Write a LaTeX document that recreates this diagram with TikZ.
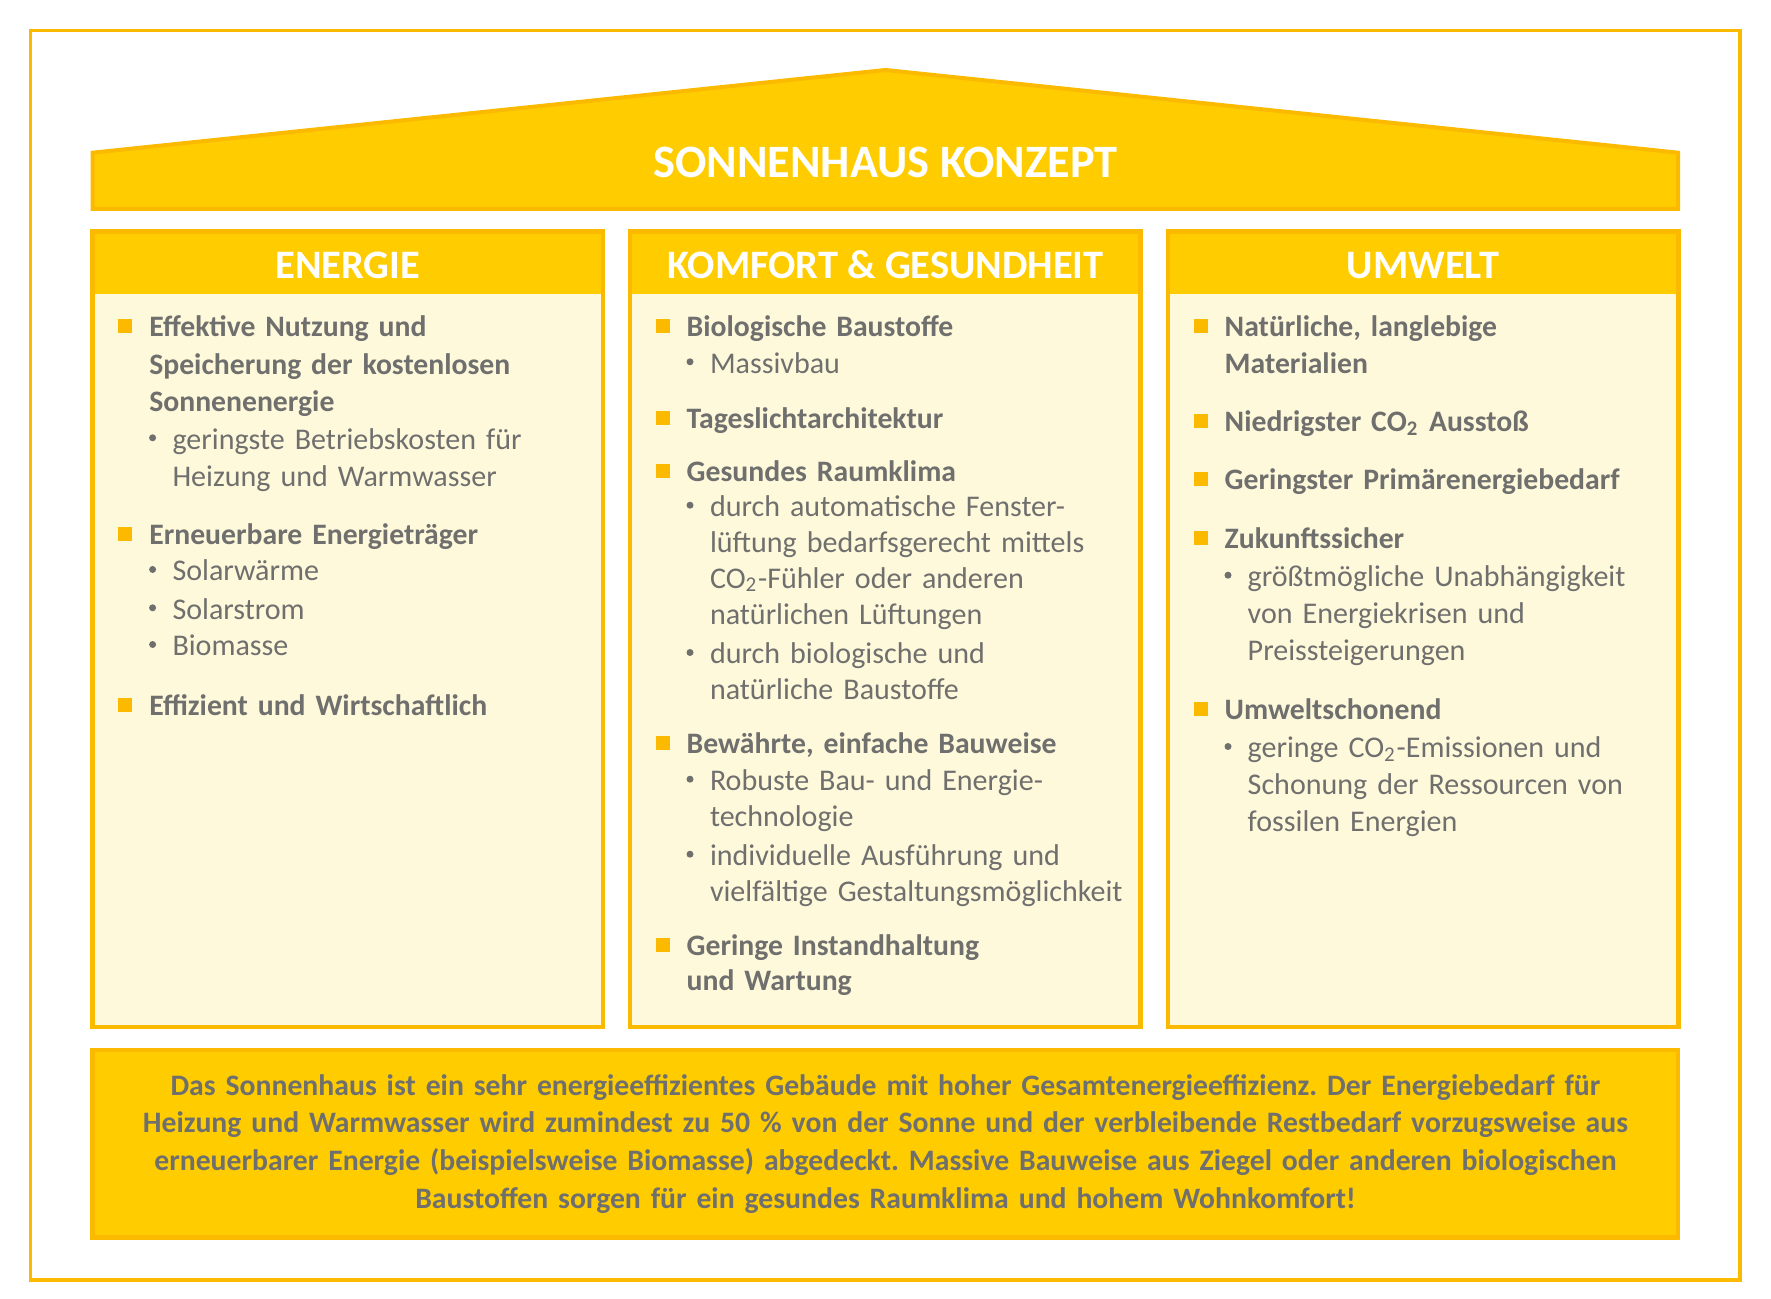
\documentclass[tikz,border=0pt]{standalone}
\usepackage{fontspec}
\setmainfont{Carlito}
\frenchspacing

\definecolor{sonnengelb}{HTML}{FFCC00}
\definecolor{randorange}{HTML}{FBBA00}
\definecolor{creme}{HTML}{FFF9DB}
\definecolor{textgrau}{HTML}{6F6F6E}

\tikzset{
    rahmen/.style     = {draw=randorange, line width=0.45mm},
    titel/.style      = {anchor=base, inner sep=0pt, text=white, font=\bfseries\fontsize{13.2}{15}\selectfont},
    kopftext/.style   = {anchor=base, inner sep=0pt, text=white, font=\bfseries\fontsize{11.5}{13}\selectfont},
    punkt/.style      = {anchor=base west, inner sep=0pt, text width=75mm, align=left, text=textgrau,
                         font=\bfseries\fontsize{8.45}{#1}\selectfont},
    punkt/.default    = 10.6pt,
    unterpunkt/.style = {anchor=base west, inner sep=0pt, text width=75mm, align=left, text=textgrau,
                         font=\fontsize{8.55}{#1}\selectfont},
    unterpunkt/.default = 10.6pt,
    quadrat/.style    = {fill=randorange},
    fazit/.style      = {anchor=base, inner sep=0pt, text width=165mm, align=center, text=textgrau,
                         font=\bfseries\fontsize{8.45}{10.77}\selectfont}
}

\begin{document}
\begin{tikzpicture}[x=0.1mm, y=-0.1mm]

    \useasboundingbox (0,0) rectangle (1771,1299);

    % ---------- outer frame ----------
    \draw[randorange, line width=0.33mm] (30.5,30.5) rectangle (1740,1280);

    % =================================================
    % 1. Roof with title
    % =================================================
    \filldraw[fill=sonnengelb, rahmen, line width=0.4mm]
      (92.6,209) -- (92.6,152.7) -- (885.5,70) -- (1678,152.7) -- (1678,209) -- cycle;
    \node[titel] (titel) at (885.5,177.3) {SONNENHAUS KONZEPT};

    % =================================================
    % 2. Three columns
    % =================================================
    \foreach \cx in {92.6,630,1168} {
        \fill[creme] (\cx,231.5) rectangle ++(510.4,795.5);
        \fill[sonnengelb] (\cx,231.5) rectangle ++(510.4,62.5);
        \draw[rahmen] (\cx,231.5) rectangle ++(510.4,795.5);
    }

    \node[kopftext] (energie) at (347.8,279) {ENERGIE};
    \node[kopftext] (komfort) at (885.5,279) {KOMFORT \& GESUNDHEIT};
    \node[kopftext] (umwelt)  at (1423,279)  {UMWELT};

    % square bullets
    \foreach \sx/\by in {125.1/336.7, 125.1/544.3, 125.1/715.5,
                         662.5/336.7, 662.5/428.3, 662.5/481.7, 662.5/754, 662.5/955,
                         1200.5/336.7, 1200.5/431.7, 1200.5/490, 1200.5/548.3, 1200.5/719.5}
        \fill[quadrat] (\sx-7,\by-17.5) rectangle ++(14,14);

    % round bullets
    \foreach \dx/\by in {152.6/449.3, 152.6/581, 152.6/619.3, 152.6/656,
                         690/373.3, 690/516.7, 690/664, 690/790.7, 690/865.7,
                         1228/586.7, 1228/758}
        \fill[textgrau] (\dx,\by-11.5) circle (0.35mm);

    % ---------- ENERGIE ----------
    \node[punkt=10.67pt] (eNutzung) at (148.6,336.7)
      {Effektive Nutzung und\\Speicherung der kostenlosen\\Sonnenenergie};
    \node[unterpunkt=10.67pt] (eKosten) at (171.8,449.3)
      {geringste Betriebskosten für\\Heizung und Warmwasser};
    \node[punkt] (eTraeger) at (148.6,544.3) {Erneuerbare Energieträger};
    \node[unterpunkt] (eWaerme) at (171.8,581)   {Solarwärme};
    \node[unterpunkt] (eStrom)  at (171.8,619.3) {Solarstrom};
    \node[unterpunkt] (eBio)    at (171.8,656)   {Biomasse};
    \node[punkt] (eEffizient) at (148.6,715.5) {Effizient und Wirtschaftlich};

    % ---------- KOMFORT & GESUNDHEIT ----------
    \node[punkt] (kBaustoffe) at (686,336.7) {Biologische Baustoffe};
    \node[unterpunkt] (kMassiv) at (709.3,373.3) {Massivbau};
    \node[punkt] (kTageslicht) at (686,428.3) {Tageslichtarchitektur};
    \node[punkt] (kKlima) at (686,481.7) {Gesundes Raumklima};
    \node[unterpunkt=10.21pt] (kLueftung) at (709.3,516.7)
      {durch automatische Fenster-\\lüftung bedarfsgerecht mittels\\CO\textsubscript{2}-Fühler oder anderen\\natürlichen Lüftungen};
    \node[unterpunkt=10.21pt] (kBio) at (709.3,664)
      {durch biologische und\\natürliche Baustoffe};
    \node[punkt] (kBauweise) at (686,754) {Bewährte, einfache Bauweise};
    \node[unterpunkt=10.21pt] (kTechnik) at (709.3,790.7)
      {Robuste Bau- und Energie-\\technologie};
    \node[unterpunkt=10.21pt] (kGestalt) at (709.3,865.7)
      {individuelle Ausführung und\\vielfältige Gestaltungsmöglichkeit};
    \node[punkt=10.21pt] (kWartung) at (686,955)
      {Geringe Instandhaltung\\und Wartung};

    % ---------- UMWELT ----------
    \node[punkt=10.52pt] (uMaterial) at (1224,336.7)
      {Natürliche, langlebige\\Materialien};
    \node[punkt] (uCO) at (1224,431.7) {Niedrigster CO\textsubscript{2} Ausstoß};
    \node[punkt] (uPrimaer) at (1224,490) {Geringster Primärenergiebedarf};
    \node[punkt] (uZukunft) at (1224,548.3) {Zukunftssicher};
    \node[unterpunkt=10.52pt] (uKrisen) at (1247,586.7)
      {größtmögliche Unabhängigkeit\\von Energiekrisen und\\Preissteigerungen};
    \node[punkt] (uSchonend) at (1224,719.5) {Umweltschonend};
    \node[unterpunkt=10.52pt] (uEmission) at (1247,758)
      {geringe CO\textsubscript{2}-Emissionen und\\Schonung der Ressourcen von\\fossilen Energien};

    % =================================================
    % 3. Summary box
    % =================================================
    \filldraw[fill=sonnengelb, rahmen] (92.6,1050) rectangle (1678,1237.5);
    \node[fazit] (fazit) at (885.5,1095)
      {Das Sonnenhaus ist ein sehr energieeffizientes Gebäude mit hoher Gesamtenergieeffizienz. Der Energiebedarf für\\
       Heizung und Warmwasser wird zumindest zu 50 \% von der Sonne und der verbleibende Restbedarf vorzugsweise aus\\
       erneuerbarer Energie (beispielsweise Biomasse) abgedeckt. Massive Bauweise aus Ziegel oder anderen biologischen\\
       Baustoffen sorgen für ein gesundes Raumklima und hohem Wohnkomfort!};

\end{tikzpicture}
\end{document}
